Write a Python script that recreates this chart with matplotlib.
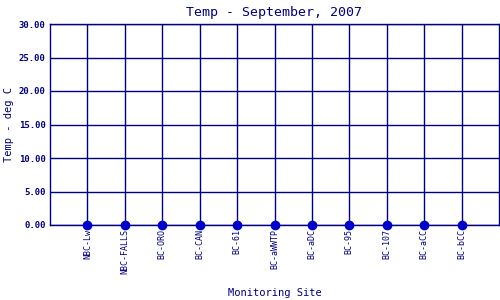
import matplotlib
matplotlib.use("Agg")
import matplotlib.pyplot as plt
import numpy as np

sites = ["NBC-Lw", "NBC-FALLS", "BC-ORO", "BC-CAN", "BC-61", "BC-aWWTP",
         "BC-aDC", "BC-95", "BC-107", "BC-aCC", "BC-bCC"]
temps = [0.0, 0.0, 0.0, 0.0, 0.0, 0.0, 0.0, 0.0, 0.0, 0.0, 0.0]
yticks = [0, 5, 10, 15, 20, 25, 30]

navy = "#000080"
plt.rcParams["font.family"] = ["DejaVu Sans Mono"]

fig = plt.figure(figsize=(5, 3), dpi=100)
ax = fig.add_axes([0.1, 0.25, 0.898, 0.67])

x = np.arange(1, len(sites) + 1)
ax.plot(x, temps, "o", color="#0000cc", markersize=6, zorder=5, clip_on=False)

ax.set_xlim(0, len(sites) + 1)
ax.set_ylim(0, 30)
ax.set_xticks(x)
ax.set_xticklabels(sites, rotation=90, fontsize=6, color=navy)
ax.set_yticks(yticks)
ax.set_yticklabels(["%.2f" % v for v in yticks], fontsize=6.5, color=navy, fontweight="bold")
ax.tick_params(length=0, pad=3)
ax.grid(True, color=navy, linewidth=1)
ax.set_axisbelow(True)
for s in ax.spines.values():
    s.set_color(navy)
    s.set_linewidth(1)

ax.set_title("Temp - September, 2007", fontsize=9.5, color=navy, pad=6)
ax.set_ylabel("Temp - deg C", fontsize=7.5, color=navy, va="center")
ax.yaxis.set_label_coords(-0.091, 0.5)
ax.set_xlabel("Monitoring Site", fontsize=7.5, color=navy, va="center")
ax.xaxis.set_label_coords(0.5, -0.338)

fig.savefig("out.png", dpi=100)
